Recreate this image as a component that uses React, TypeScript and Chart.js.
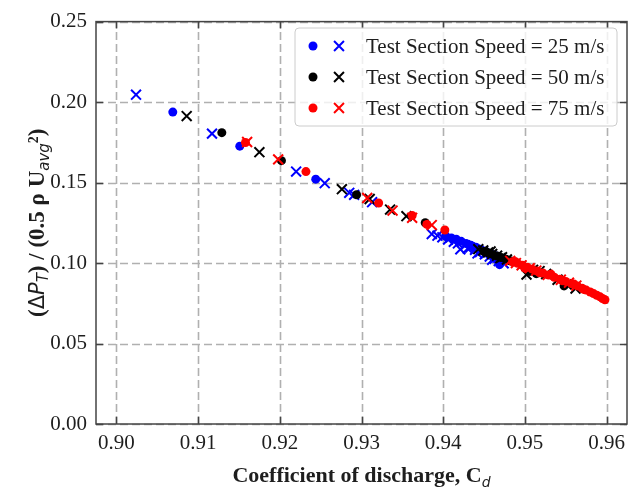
import React, { useEffect, useRef } from 'react';
import { Chart, registerables } from 'chart.js';

Chart.register(...registerables);

// Axis ticks
const xTicks = [0.9, 0.91, 0.92, 0.93, 0.94, 0.95, 0.96];
const yTicks = [0.0, 0.05, 0.1, 0.15, 0.2, 0.25];

const seriesLabels = [
  'Test Section Speed = 25 m/s',
  'Test Section Speed = 50 m/s',
  'Test Section Speed = 75 m/s',
];
const seriesColors = ['#0000ff', '#000000', '#ff0000'];

// 25 m/s — circles
const cd25Dots = [0.9069, 0.9151, 0.9244, 0.9403, 0.941, 0.9416, 0.9422, 0.9428, 0.9434, 0.9437, 0.944, 0.9446, 0.9452, 0.9455, 0.9458, 0.9462, 0.9464, 0.947, 0.9469];
const dp25Dots = [0.1938, 0.1726, 0.1521, 0.1168, 0.1156, 0.1148, 0.1135, 0.1122, 0.111, 0.1098, 0.1098, 0.1085, 0.1072, 0.1058, 0.106, 0.103, 0.1045, 0.102, 0.099];
// 25 m/s — crosses
const cd25Cross = [0.9024, 0.9117, 0.922, 0.9255, 0.9285, 0.9291, 0.9313, 0.9386, 0.9393, 0.9399, 0.9406, 0.9413, 0.9418, 0.9421, 0.9427, 0.943, 0.9433, 0.9439, 0.9442, 0.9445, 0.9451, 0.9457, 0.946, 0.9463, 0.9468, 0.9474];
const dp25Cross = [0.2046, 0.1804, 0.1568, 0.1496, 0.1436, 0.1424, 0.1378, 0.118, 0.117, 0.116, 0.1146, 0.1132, 0.1122, 0.1085, 0.111, 0.109, 0.1096, 0.1082, 0.106, 0.1068, 0.1054, 0.104, 0.102, 0.1026, 0.1012, 0.0998];

// 50 m/s — circles
const cd50Dots = [0.9129, 0.9202, 0.9294, 0.9378, 0.945, 0.9456, 0.9461, 0.9466, 0.9471, 0.9477, 0.9483, 0.9506, 0.9514, 0.9548];
const dp50Dots = [0.181, 0.1636, 0.1424, 0.125, 0.1072, 0.1062, 0.1052, 0.1044, 0.1034, 0.1024, 0.1012, 0.0948, 0.0934, 0.0858];
// 50 m/s — crosses
const cd50Cross = [0.9086, 0.9175, 0.9276, 0.931, 0.9335, 0.9355, 0.9443, 0.9449, 0.9455, 0.9458, 0.946, 0.9466, 0.947, 0.9472, 0.9478, 0.9502, 0.951, 0.9518, 0.9526, 0.954, 0.9551, 0.9562];
const dp50Cross = [0.1913, 0.1689, 0.1459, 0.1398, 0.1332, 0.1291, 0.1086, 0.1078, 0.1066, 0.1072, 0.1056, 0.1046, 0.103, 0.1036, 0.1022, 0.0928, 0.0958, 0.095, 0.0932, 0.0896, 0.0868, 0.0842];

// 75 m/s — circles
const cd75Dots = [0.9158, 0.9232, 0.9321, 0.9362, 0.938, 0.9402, 0.9485, 0.9488, 0.9491, 0.9497, 0.95, 0.9503, 0.9509, 0.9515, 0.9518, 0.9522, 0.9529, 0.9532, 0.9536, 0.9543, 0.9546, 0.955, 0.9557, 0.956, 0.9564, 0.957, 0.9572, 0.9575, 0.958, 0.9584, 0.9588, 0.9592, 0.9595, 0.9598];
const dp75Dots = [0.1749, 0.1568, 0.1373, 0.1295, 0.124, 0.1205, 0.1008, 0.101, 0.0998, 0.0986, 0.0968, 0.0974, 0.0962, 0.095, 0.094, 0.0938, 0.0926, 0.093, 0.0912, 0.09, 0.089, 0.0886, 0.0872, 0.087, 0.0858, 0.0844, 0.0836, 0.0832, 0.082, 0.081, 0.08, 0.079, 0.078, 0.0772];
// 75 m/s — crosses
const cd75Cross = [0.916, 0.9198, 0.9307, 0.9338, 0.9362, 0.9386, 0.9482, 0.9489, 0.9496, 0.9506, 0.9514, 0.9528, 0.9544, 0.9554, 0.9563];
const dp75Cross = [0.1752, 0.1644, 0.1404, 0.1326, 0.1281, 0.1236, 0.1014, 0.1, 0.0986, 0.0968, 0.0953, 0.0926, 0.0896, 0.0878, 0.086];

const W = 636;
const H = 487;
const DOT_R = 4.5;
const CROSS_R = 7;
const CROSS_W = 2;
const FRAME_COLOR = '#444444';
const GRID_COLOR = '#b0b0b0';
const TEXT_COLOR = '#1e1e1e';

const serif = (s: number, bold = false) => `${bold ? 'bold ' : ''}${s}px "Liberation Serif", "Times New Roman", serif`;
const mathIt = (s: number) => `italic ${s}px "DejaVu Sans", sans-serif`;
const mathUp = (s: number) => `${s}px "DejaVu Sans", sans-serif`;

type Run = { text: string; font: string; dy: number };

const xTitleRuns: Run[] = [
  { text: 'Coefficient of discharge, C', font: serif(22, true), dy: 0 },
  { text: 'd', font: mathIt(14), dy: 5 },
];
const yTitleRuns: Run[] = [
  { text: '(', font: serif(23, true), dy: 0 },
  { text: 'Δ', font: mathUp(21), dy: 0 },
  { text: 'P', font: mathIt(21), dy: 0 },
  { text: 'T', font: mathIt(15), dy: 4 },
  { text: ') / (0.5 ρ U', font: serif(23, true), dy: 0 },
  { text: 'avg', font: mathIt(15), dy: 5 },
  { text: '²', font: serif(23, true), dy: 0 },
  { text: ')', font: serif(23, true), dy: 0 },
];

function toPoints(xs: number[], ys: number[]) {
  return xs.map((x, i) => ({ x, y: ys[i] }));
}

function runsWidth(ctx: CanvasRenderingContext2D, runs: Run[]) {
  let w = 0;
  for (const r of runs) {
    ctx.font = r.font;
    w += ctx.measureText(r.text).width;
  }
  return w;
}

function drawRunsCentered(ctx: CanvasRenderingContext2D, runs: Run[], cx: number, baseline: number) {
  let x = cx - runsWidth(ctx, runs) / 2;
  ctx.textAlign = 'left';
  ctx.textBaseline = 'alphabetic';
  for (const r of runs) {
    ctx.font = r.font;
    ctx.fillText(r.text, x, baseline + r.dy);
    x += ctx.measureText(r.text).width;
  }
}

function drawDot(ctx: CanvasRenderingContext2D, x: number, y: number, color: string) {
  ctx.beginPath();
  ctx.fillStyle = color;
  ctx.arc(x, y, DOT_R, 0, Math.PI * 2);
  ctx.fill();
}

function drawCross(ctx: CanvasRenderingContext2D, x: number, y: number, color: string) {
  const h = CROSS_R * Math.SQRT1_2;
  ctx.beginPath();
  ctx.strokeStyle = color;
  ctx.lineWidth = CROSS_W;
  ctx.moveTo(x - h, y - h);
  ctx.lineTo(x + h, y + h);
  ctx.moveTo(x - h, y + h);
  ctx.lineTo(x + h, y - h);
  ctx.stroke();
}

const decorPlugin = {
  id: 'decor',
  beforeDatasetsDraw(chart: any) {
    const { ctx, chartArea: a, scales } = chart;
    ctx.save();
    ctx.strokeStyle = GRID_COLOR;
    ctx.lineWidth = 1.6;
    ctx.setLineDash([8, 4]);
    for (const v of xTicks) {
      const px = Math.round(scales.x.getPixelForValue(v)) + 0.5;
      ctx.beginPath();
      ctx.moveTo(px, a.bottom);
      ctx.lineTo(px, a.top);
      ctx.stroke();
    }
    for (const v of yTicks) {
      const py = Math.round(scales.y.getPixelForValue(v)) + 0.5;
      ctx.beginPath();
      ctx.moveTo(a.left, py);
      ctx.lineTo(a.right, py);
      ctx.stroke();
    }
    ctx.restore();
  },
  afterDatasetsDraw(chart: any) {
    const { ctx, chartArea: a, scales } = chart;
    ctx.save();
    ctx.strokeStyle = FRAME_COLOR;
    ctx.lineWidth = 1.5;
    ctx.setLineDash([]);
    ctx.strokeRect(a.left, a.top, a.right - a.left, a.bottom - a.top);
    const tl = 7;
    ctx.beginPath();
    for (const v of xTicks) {
      const px = Math.round(scales.x.getPixelForValue(v)) + 0.5;
      ctx.moveTo(px, a.bottom);
      ctx.lineTo(px, a.bottom - tl);
      ctx.moveTo(px, a.top);
      ctx.lineTo(px, a.top + tl);
    }
    for (const v of yTicks) {
      const py = Math.round(scales.y.getPixelForValue(v)) + 0.5;
      ctx.moveTo(a.left, py);
      ctx.lineTo(a.left + tl, py);
      ctx.moveTo(a.right, py);
      ctx.lineTo(a.right - tl, py);
    }
    ctx.stroke();
    ctx.restore();
  },
  afterDraw(chart: any) {
    const { ctx, chartArea: a } = chart;
    ctx.save();

    // legend
    const lx = 295, ly = 28, lw = 322, lh = 98, rr = 4;
    ctx.beginPath();
    ctx.moveTo(lx + rr, ly);
    ctx.arcTo(lx + lw, ly, lx + lw, ly + lh, rr);
    ctx.arcTo(lx + lw, ly + lh, lx, ly + lh, rr);
    ctx.arcTo(lx, ly + lh, lx, ly, rr);
    ctx.arcTo(lx, ly, lx + lw, ly, rr);
    ctx.closePath();
    ctx.fillStyle = 'rgba(255,255,255,0.8)';
    ctx.fill();
    ctx.strokeStyle = '#cccccc';
    ctx.lineWidth = 1;
    ctx.stroke();

    seriesLabels.forEach((label, i) => {
      const cy = 46 + i * 31;
      drawDot(ctx, 313, cy, seriesColors[i]);
      drawCross(ctx, 339, cy, seriesColors[i]);
      ctx.fillStyle = TEXT_COLOR;
      ctx.font = serif(21);
      ctx.textAlign = 'left';
      ctx.textBaseline = 'middle';
      ctx.fillText(label, 366, cy + 1);
    });

    // axis titles
    ctx.fillStyle = TEXT_COLOR;
    drawRunsCentered(ctx, xTitleRuns, (a.left + a.right) / 2, 482);
    ctx.translate(44, (a.top + a.bottom) / 2);
    ctx.rotate(-Math.PI / 2);
    drawRunsCentered(ctx, yTitleRuns, 0, 0);
    ctx.restore();
  },
};

export default function App() {
  const canvasRef = useRef<HTMLCanvasElement | null>(null);

  useEffect(() => {
    const canvas = canvasRef.current;
    if (!canvas) return;

    const crossSet = (label: string, xs: number[], ys: number[], color: string) => ({
      label,
      data: toPoints(xs, ys),
      pointStyle: 'crossRot',
      pointRadius: CROSS_R,
      pointBorderWidth: CROSS_W,
      borderColor: color,
      backgroundColor: color,
      showLine: false,
    });
    const dotSet = (label: string, xs: number[], ys: number[], color: string) => ({
      label,
      data: toPoints(xs, ys),
      pointStyle: 'circle',
      pointRadius: DOT_R,
      pointBorderWidth: 0,
      borderColor: color,
      backgroundColor: color,
      showLine: false,
    });

    // first dataset is painted last, so the 75 m/s marks sit on top
    const datasets: any[] = [
      crossSet(seriesLabels[2], cd75Cross, dp75Cross, seriesColors[2]),
      dotSet(seriesLabels[2], cd75Dots, dp75Dots, seriesColors[2]),
      crossSet(seriesLabels[1], cd50Cross, dp50Cross, seriesColors[1]),
      dotSet(seriesLabels[1], cd50Dots, dp50Dots, seriesColors[1]),
      crossSet(seriesLabels[0], cd25Cross, dp25Cross, seriesColors[0]),
      dotSet(seriesLabels[0], cd25Dots, dp25Dots, seriesColors[0]),
    ];

    const tickFont = { family: '"Liberation Serif", "Times New Roman", serif', size: 21 };

    const chart = new Chart(canvas, {
      type: 'scatter',
      data: { datasets },
      options: {
        responsive: false,
        animation: false,
        events: [],
        layout: { padding: { top: 17, right: 8, left: 0, bottom: 0 } },
        plugins: { legend: { display: false }, tooltip: { enabled: false } },
        scales: {
          x: {
            type: 'linear',
            min: 0.8975,
            max: 0.9625,
            grid: { display: false, drawTicks: false },
            border: { display: false },
            afterBuildTicks: (s: any) => {
              s.ticks = xTicks.map((v) => ({ value: v }));
            },
            afterFit: (s: any) => {
              s.height = 63;
            },
            ticks: {
              font: tickFont,
              color: TEXT_COLOR,
              padding: 7,
              maxRotation: 0,
              autoSkip: false,
              callback: (v: any) => Number(v).toFixed(2),
            },
          },
          y: {
            type: 'linear',
            min: 0,
            max: 0.25,
            grid: { display: false, drawTicks: false },
            border: { display: false },
            afterBuildTicks: (s: any) => {
              s.ticks = yTicks.map((v) => ({ value: v }));
            },
            afterFit: (s: any) => {
              s.width = 96;
            },
            ticks: {
              font: tickFont,
              color: TEXT_COLOR,
              padding: 9,
              autoSkip: false,
              callback: (v: any) => Number(v).toFixed(2),
            },
          },
        },
      },
      plugins: [decorPlugin],
    } as any);

    return () => chart.destroy();
  }, []);

  return (
    <div style={{ position: 'absolute', left: 0, top: 0, width: W, height: H, background: '#ffffff' }}>
      <canvas ref={canvasRef} width={W} height={H} style={{ display: 'block', width: W, height: H }} />
    </div>
  );
}
